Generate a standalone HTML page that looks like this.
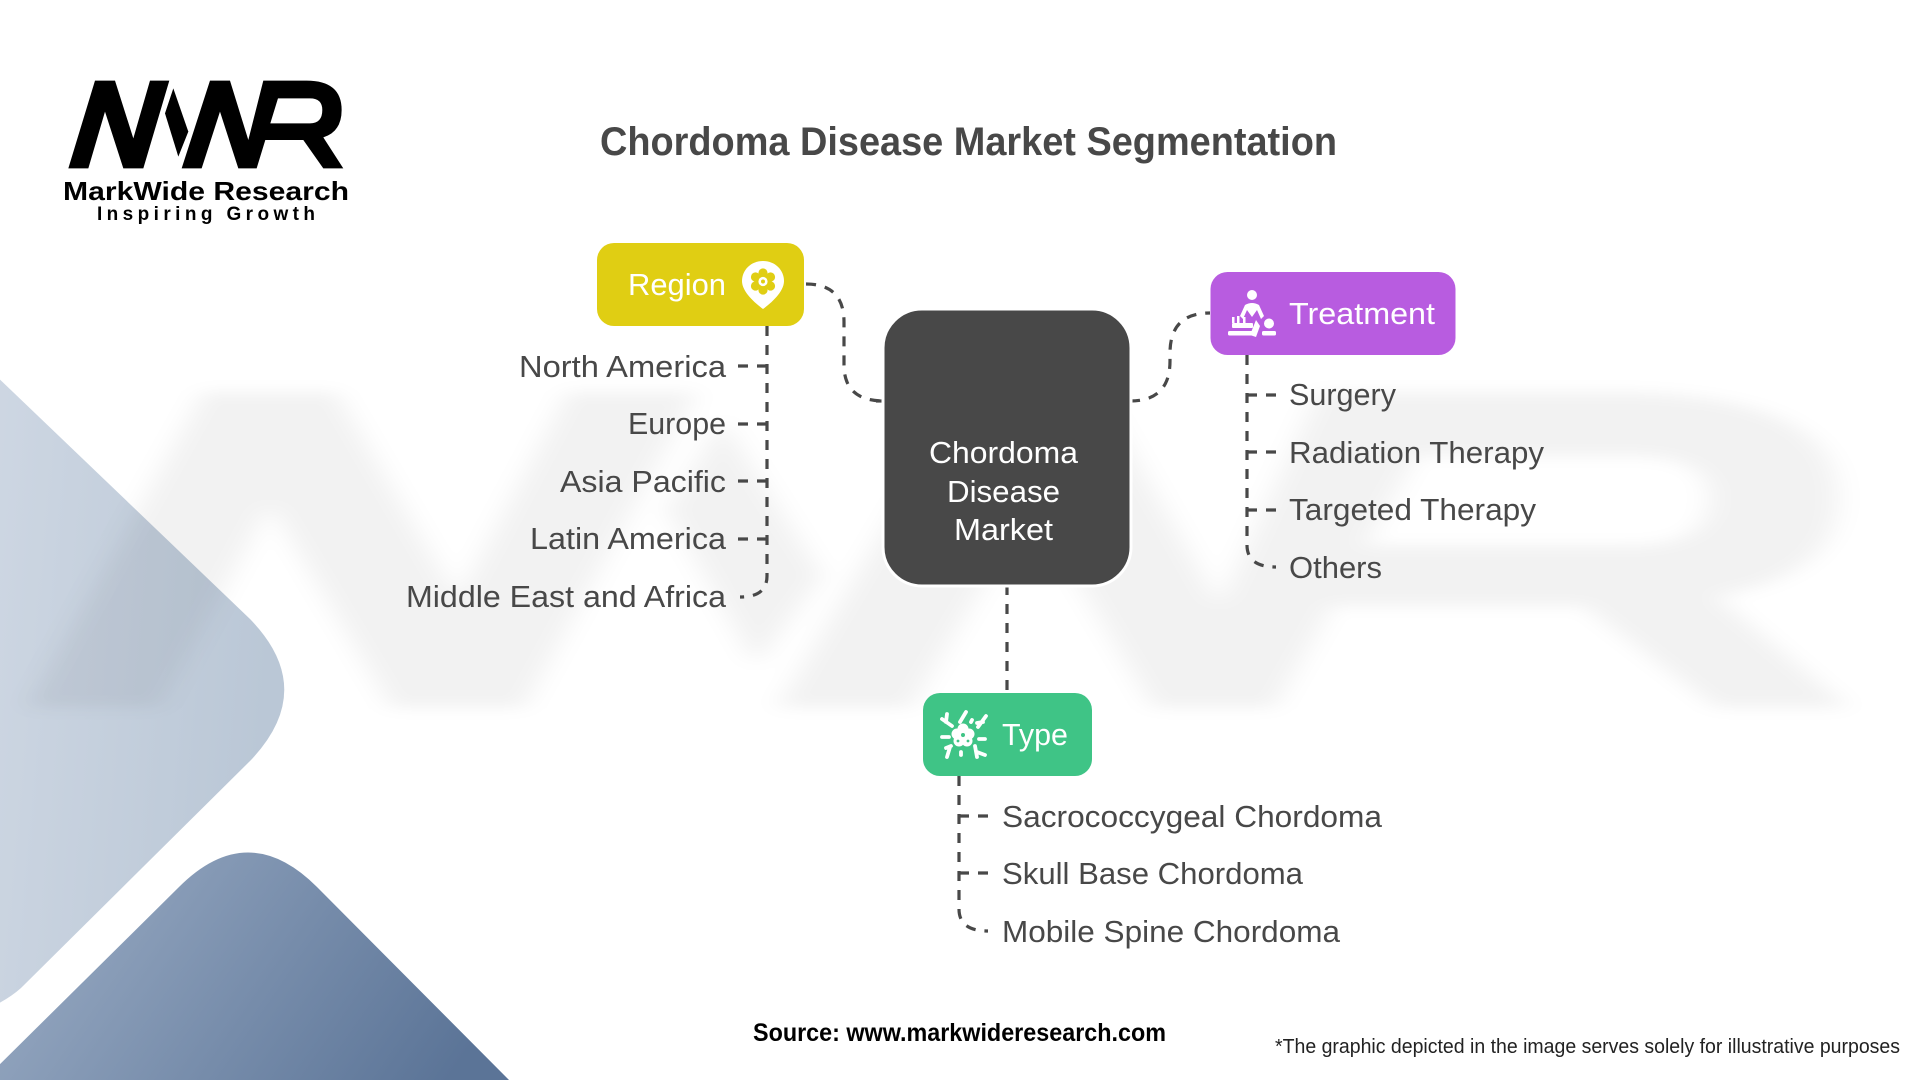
<!DOCTYPE html>
<html lang="en">
<head>
<meta charset="utf-8">
<title>Chordoma Disease Market Segmentation</title>
<style>
html,body{margin:0;padding:0;background:#fff;width:1920px;height:1080px;overflow:hidden}
svg{display:block}
text{font-family:"Liberation Sans",sans-serif}
.l{font-size:31px;fill:#484848}
.h{font-size:31px;fill:#fff}
.c{stroke:#484848;stroke-width:3.2;fill:none;stroke-dasharray:10 9}
</style>
</head>
<body>
<svg width="1920" height="1080" viewBox="0 0 1920 1080" xmlns="http://www.w3.org/2000/svg">
<defs>
<linearGradient id="g1" x1="0" y1="0" x2="1" y2="0.2"><stop offset="0" stop-color="#CED7E3"/><stop offset="1" stop-color="#BAC7D6"/></linearGradient>
<linearGradient id="g2" gradientUnits="userSpaceOnUse" x1="100" y1="900" x2="420" y2="1120"><stop offset="0" stop-color="#8FA2BC"/><stop offset="1" stop-color="#5B7497"/></linearGradient>
<filter id="b" x="-5%" y="-5%" width="110%" height="110%"><feGaussianBlur stdDeviation="6"/></filter>
<g id="mwr">
<polygon points="85,325 165,62 225,62 280,235 330,62 388,62 310,325 250,325 195,155 145,325"/>
<polygon points="400,85 445,215 415,290 375,160"/>
<path fill-rule="evenodd" d="M425,325L510,62H570L625,240L670,62H800Q905,62 905,150Q905,215 850,232L910,325H850L790,240H676L650,325H595L540,155L485,325ZM714,115H810Q847,115 847,150Q847,190 810,190H691Z"/>
</g>
</defs>

<rect width="1920" height="1080" fill="#fff"/>
<path d="M-10,370L250,619Q318,689 251,760L21,988Q10,998 -10,1008Z" fill="url(#g1)"/>
<path d="M-10,1074L179,887Q248,818 317,887L514,1085H-10Z" fill="url(#g2)"/>

<g transform="translate(-160.7,317.6) scale(2.208,1.2)" fill="#000" fill-opacity=".05" filter="url(#b)"><use href="#mwr"/></g>

<!-- logo -->
<g transform="translate(40,60) scale(.3333)" fill="#000"><use href="#mwr"/></g>
<text x="63" y="200" font-size="26" font-weight="700" fill="#000" textLength="286" lengthAdjust="spacingAndGlyphs">MarkWide Research</text>
<text x="97" y="220" font-size="19" font-weight="700" fill="#000" textLength="218" lengthAdjust="spacing">Inspiring Growth</text>

<text x="600" y="155" font-size="40" font-weight="700" fill="#484848" textLength="737" lengthAdjust="spacingAndGlyphs">Chordoma Disease Market Segmentation</text>

<!-- connectors -->
<path class="c" d="M806,284Q844,284 844,322V365Q844,401 884,401"/>
<path d="M876,401H884" stroke="#484848" stroke-width="3.2"/>
<path class="c" d="M1130,401Q1170,401 1170,361V353Q1170,313 1210,313"/>
<path class="c" d="M1007,585V693"/>
<path class="c" d="M767,326V576Q767,597 740,597"/>
<path class="c" d="M767,366H738M767,424H738M767,481H738M767,539H738"/>
<path class="c" d="M1247,355V545Q1247,567 1276,567"/>
<path class="c" d="M1247,395H1276M1247,452H1276M1247,510H1276"/>
<path class="c" d="M959,776V909Q959,931 988,931"/>
<path class="c" d="M959,816H988M959,873H988"/>

<!-- center node -->
<rect x="883" y="309" width="248" height="277" rx="39" fill="#484848" stroke="#fff" stroke-width="3"/>
<text x="929" y="463" class="h" textLength="149" lengthAdjust="spacingAndGlyphs">Chordoma</text>
<text x="947" y="502" class="h" textLength="113" lengthAdjust="spacingAndGlyphs">Disease</text>
<text x="954" y="540" class="h" textLength="99" lengthAdjust="spacingAndGlyphs">Market</text>

<!-- Region -->
<rect x="597" y="243" width="207" height="83" rx="17" fill="#E0CE13"/>
<text x="628" y="295" class="h" textLength="98" lengthAdjust="spacingAndGlyphs">Region</text>
<path d="M763,261C775,261 784,270 784,281C784,292 771,303 763,309C755,303 742,292 742,281C742,270 751,261 763,261Z" fill="#fff"/>
<g fill="#E0CE13">
<circle cx="763" cy="273" r="4.6"/><circle cx="763" cy="290" r="4.6"/>
<circle cx="755.5" cy="277" r="4.6"/><circle cx="770.5" cy="277" r="4.6"/>
<circle cx="755.5" cy="286" r="4.6"/><circle cx="770.5" cy="286" r="4.6"/>
<circle cx="763" cy="281.5" r="8"/>
</g>
<circle cx="763" cy="281.5" r="4.6" fill="#fff"/>
<circle cx="763" cy="281.5" r="2" fill="#E0CE13"/>
<text x="519" y="377" class="l" textLength="207" lengthAdjust="spacingAndGlyphs">North America</text>
<text x="628" y="434" class="l" textLength="98" lengthAdjust="spacingAndGlyphs">Europe</text>
<text x="560" y="492" class="l" textLength="166" lengthAdjust="spacingAndGlyphs">Asia Pacific</text>
<text x="530" y="549" class="l" textLength="196" lengthAdjust="spacingAndGlyphs">Latin America</text>
<text x="406" y="607" class="l" textLength="320" lengthAdjust="spacingAndGlyphs">Middle East and Africa</text>

<!-- Treatment -->
<rect x="1210.5" y="272" width="245" height="83" rx="17" fill="#B85CE0"/>
<text x="1289" y="324" class="h" textLength="146" lengthAdjust="spacingAndGlyphs">Treatment</text>
<g fill="#fff">
<circle cx="1252" cy="295" r="5"/>
<path d="M1240,316L1245,305Q1252,301 1259,305L1264,316L1261,319L1257,310L1252,317L1247,310L1243,319Z"/>
<circle cx="1269" cy="323.5" r="5"/>
<rect x="1232" y="323" width="21" height="5" rx="1"/>
<rect x="1228" y="331" width="25" height="4.5" rx="1.5"/>
<rect x="1262" y="331" width="14" height="4.5" rx="1.5"/>
<path d="M1250,335L1256,320L1260,326L1256,337Z"/>
<rect x="1232" y="317" width="2.5" height="6"/><rect x="1237" y="316" width="2.5" height="7"/><rect x="1243" y="317" width="2.5" height="6"/>
</g>
<text x="1289" y="405" class="l" textLength="107" lengthAdjust="spacingAndGlyphs">Surgery</text>
<text x="1289" y="463" class="l" textLength="255" lengthAdjust="spacingAndGlyphs">Radiation Therapy</text>
<text x="1289" y="520" class="l" textLength="247" lengthAdjust="spacingAndGlyphs">Targeted Therapy</text>
<text x="1289" y="578" class="l" textLength="93" lengthAdjust="spacingAndGlyphs">Others</text>

<!-- Type -->
<rect x="923" y="693" width="169" height="83" rx="17" fill="#3FC486"/>
<text x="1002" y="745" class="h" textLength="66" lengthAdjust="spacingAndGlyphs">Type</text>
<g fill="#fff">
<circle cx="963" cy="729" r="5.5"/><circle cx="957" cy="734" r="5.5"/><circle cx="969" cy="734" r="5.5"/><circle cx="959" cy="741" r="5.5"/><circle cx="967" cy="741" r="5.5"/>
</g>
<circle cx="963" cy="735" r="2" fill="#3FC486"/>
<circle cx="958" cy="741" r="1.4" fill="#3FC486"/>
<circle cx="968" cy="741" r="1.4" fill="#3FC486"/>
<g stroke="#fff" stroke-width="3.8" stroke-linecap="round" fill="none">
<path d="M942,719L952,726M947,714L946,722"/>
<path d="M966,712L960,722"/>
<path d="M972,720L971,722"/>
<path d="M986,716L978,727M983,722L977,723"/>
<path d="M942,737H949"/>
<path d="M979,739H985"/>
<path d="M947,757L950,747M946,748L951,746"/>
<path d="M961,752V755"/>
<path d="M975,746L977,757M977,752L985,755"/>
</g>
<text x="1002" y="827" class="l" textLength="380" lengthAdjust="spacingAndGlyphs">Sacrococcygeal Chordoma</text>
<text x="1002" y="884" class="l" textLength="301" lengthAdjust="spacingAndGlyphs">Skull Base Chordoma</text>
<text x="1002" y="942" class="l" textLength="338" lengthAdjust="spacingAndGlyphs">Mobile Spine Chordoma</text>

<text x="753" y="1041" font-size="25" font-weight="700" fill="#000" textLength="413" lengthAdjust="spacingAndGlyphs">Source: www.markwideresearch.com</text>
<text x="1275" y="1053" font-size="20" fill="#222" textLength="625" lengthAdjust="spacingAndGlyphs">*The graphic depicted in the image serves solely for illustrative purposes</text>
</svg>
</body>
</html>
